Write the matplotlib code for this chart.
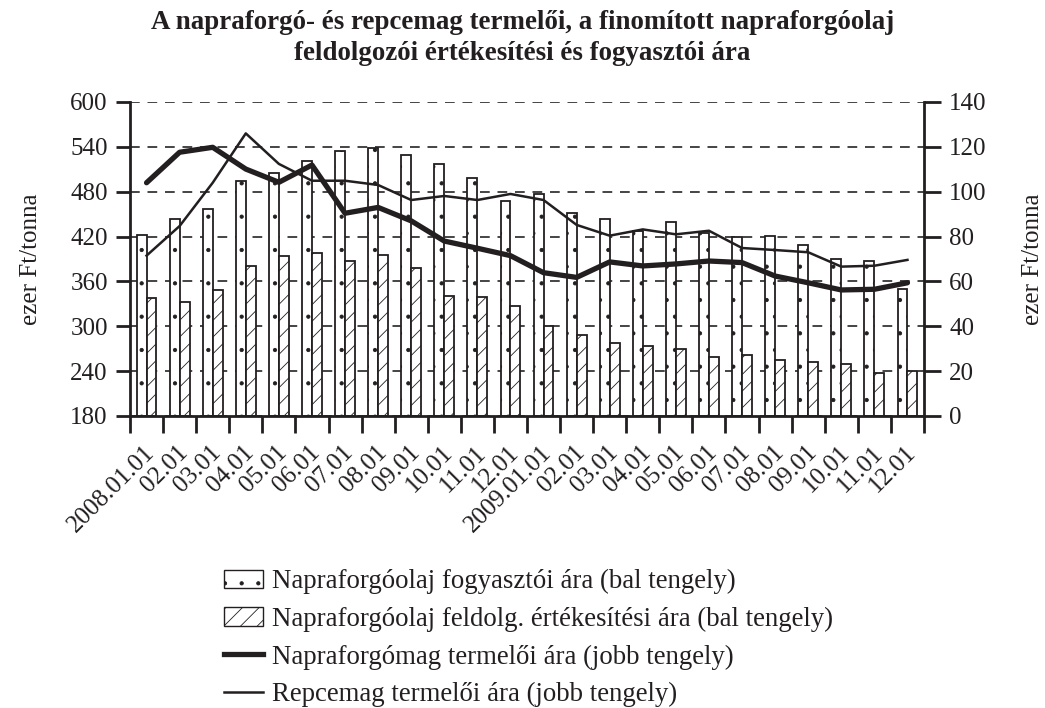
import numpy as np
import matplotlib
matplotlib.use('Agg')
import matplotlib.pyplot as plt
from matplotlib.lines import Line2D
from matplotlib.patches import Patch

plt.rcParams['font.family'] = ['Liberation Serif', 'DejaVu Serif']
plt.rcParams['hatch.linewidth'] = 0.6

# Adatok
honapok = ['2008.01.01', '02.01', '03.01', '04.01', '05.01', '06.01', '07.01', '08.01',
           '09.01', '10.01', '11.01', '12.01', '2009.01.01', '02.01', '03.01', '04.01',
           '05.01', '06.01', '07.01', '08.01', '09.01', '10.01', '11.01', '12.01']
fogyasztoi = [422, 444, 457, 494, 505, 521, 534, 539, 529, 517, 498, 468,
              477, 452, 444, 427, 439, 425, 420, 421, 409, 390, 387, 350]
feldolg = [338, 332, 349, 381, 394, 398, 387, 396, 378, 340, 339, 327,
           300, 289, 277, 274, 269, 259, 261, 255, 252, 249, 238, 240]
napraforgomag = [104.0, 117.6, 119.8, 110.1, 104.2, 111.9, 90.4, 93.0, 87.0, 78.0, 74.8, 71.5,
                 63.9, 61.8, 68.7, 66.9, 67.8, 69.1, 68.4, 62.4, 59.4, 56.2, 56.5, 59.4]
repcemag = [71.5, 84.7, 104.0, 126.0, 112.4, 104.9, 104.9, 103.0, 96.3, 98.1, 96.3, 99.0,
            96.3, 85.2, 80.4, 83.2, 81.0, 82.6, 74.9, 74.0, 73.0, 66.6, 67.0, 69.6]

szin = '#231f20'
x = np.arange(len(honapok))
w = 0.30

fig = plt.figure(figsize=(10.45, 7.08), dpi=100)
ax = fig.add_axes([130 / 1045, 1 - 416 / 708, 794 / 1045, 314 / 708])

# Oszlopok (bal tengely)
ax.bar(x - w / 2, np.array(fogyasztoi) - 180, w, bottom=180, color='white',
       edgecolor=szin, linewidth=1.3, hatch='.', zorder=2)
ax.bar(x + w / 2, np.array(feldolg) - 180, w, bottom=180, color='white',
       edgecolor=szin, linewidth=1.3, hatch='//', zorder=2)

ax.set_xlim(-0.5, len(honapok) - 0.5)
ax.set_ylim(180, 600)
ax.set_yticks(np.arange(180, 601, 60))
ax.yaxis.grid(True, linestyle=(0, (5, 4)), color='#444444', linewidth=1.4)
ax.set_axisbelow(True)

# hónapok közti osztások, feliratok kissé jobbra a hónap közepétől
ax.set_xticks(np.arange(-0.5, len(honapok), 1))
ax.set_xticklabels([])
ax.set_xticks(x + 0.15, minor=True)
ax.set_xticklabels(honapok, minor=True, rotation=45, ha='right', va='center',
                   rotation_mode='anchor', fontsize=18, color=szin)
ax.tick_params(axis='x', which='major', length=12, width=2, color=szin)
ax.tick_params(axis='x', which='minor', length=0, pad=24)
ax.tick_params(axis='y', length=10, width=2, color=szin, labelsize=18, labelcolor=szin, pad=6)
for s in ['left', 'bottom']:
    ax.spines[s].set_linewidth(2)
    ax.spines[s].set_color(szin)
ax.spines['top'].set_visible(False)
ax.spines['right'].set_visible(False)
ax.set_ylabel('ezer Ft/tonna', fontsize=18, color=szin)
ax.yaxis.set_label_coords(-0.111, 0.5)

# Vonalak (jobb tengely)
ax2 = ax.twinx()
ax2.plot(x, napraforgomag, color=szin, linewidth=3.8, solid_capstyle='round')
ax2.plot(x, repcemag, color=szin, linewidth=1.8)
ax2.set_ylim(0, 140)
ax2.set_yticks(np.arange(0, 141, 20))
ax2.tick_params(axis='y', length=12, width=2, color=szin, labelsize=18, labelcolor=szin, pad=6)
ax2.spines['right'].set_linewidth(2)
ax2.spines['right'].set_color(szin)
for s in ['left', 'top', 'bottom']:
    ax2.spines[s].set_visible(False)
ax2.set_ylabel('ezer Ft/tonna', fontsize=18, color=szin, rotation=90)
ax2.yaxis.set_label_coords(1.123, 0.5)

fig.suptitle('A napraforgó- és repcemag termelői, a finomított napraforgóolaj\n'
             'feldolgozói értékesítési és fogyasztói ára',
             fontsize=19.4, fontweight='bold', color=szin, y=1 - 10 / 708, va='top',
             linespacing=1.32)

# Jelmagyarázat
kezelok = [Patch(facecolor='white', edgecolor=szin, hatch='.', linewidth=1),
           Patch(facecolor='white', edgecolor=szin, hatch='//', linewidth=1),
           Line2D([], [], color=szin, linewidth=3.8),
           Line2D([], [], color=szin, linewidth=1.8)]
cimkek = ['Napraforgóolaj fogyasztói ára (bal tengely)',
          'Napraforgóolaj feldolg. értékesítési ára (bal tengely)',
          'Napraforgómag termelői ára (jobb tengely)',
          'Repcemag termelői ára (jobb tengely)']
fig.legend(kezelok, cimkek, loc='upper left', bbox_to_anchor=(224 / 1045, 1 - 569 / 708),
           frameon=False, fontsize=19.3, handlelength=1.46, handleheight=0.67,
           handletextpad=0.34, labelspacing=0.47, labelcolor=szin, borderpad=0,
           borderaxespad=0)

fig.savefig('out.png', dpi=100)
